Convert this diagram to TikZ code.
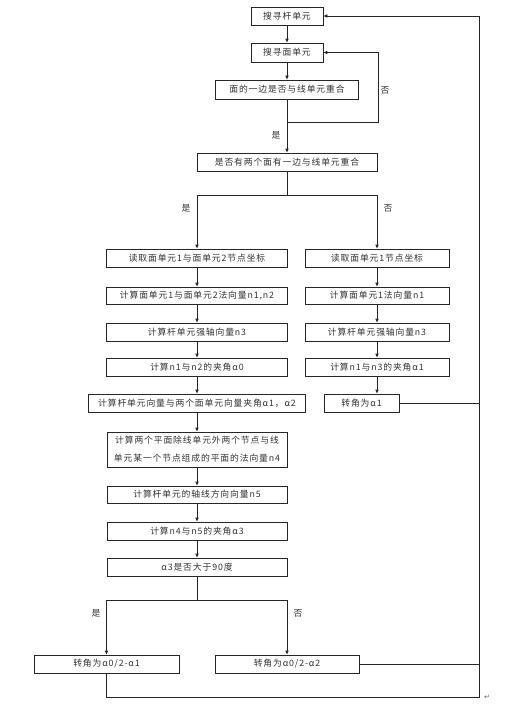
\documentclass[tikz,border=0pt]{standalone}
\usepackage{fontspec}
\newfontfamily\cjk[LetterSpace=10]{Noto Sans CJK SC}
\newfontfamily\symfont{DejaVu Sans}
\usetikzlibrary{arrows.meta}
\tikzset{
  box/.style={draw=black!85, line width=0.6pt, minimum height=18pt, inner sep=0pt,
    text=black!80, font=\cjk\fontsize{8.8}{18}\selectfont},
  conn/.style={draw=black!85, line width=0.6pt},
  arr/.style={conn, -{Latex[length=4pt,width=3.5pt]}},
  lbl/.style={text=black!80, font=\cjk\fontsize{8.8}{10}\selectfont, inner sep=0pt}
}
\begin{document}
\begin{tikzpicture}[x=1pt,y=-1pt]
\fill[white] (0,0) rectangle (531,707);
\useasboundingbox (0,0) rectangle (531,707);
% main column
\node[box, minimum width=72pt] (b1) at (287,16) {搜寻杆单元};
\node[box, minimum width=72pt, minimum height=19pt] (b2) at (287,52.5) {搜寻面单元};
\node[box, minimum width=143pt, minimum height=19pt] (b3) at (287,89.5) {面的一边是否与线单元重合};
\node[box, minimum width=180pt] (b4) at (287,162) {是否有两个面有一边与线单元重合};
% left column
\node[box, minimum width=181pt] (L1) at (197,258) {读取面单元1与面单元2节点坐标};
\node[box, minimum width=181pt, minimum height=17pt] (L2) at (197,295.5) {计算面单元1与面单元2法向量n1,n2};
\node[box, minimum width=181pt] (L3) at (197,332) {计算杆单元强轴向量n3};
\node[box, minimum width=181pt] (L4) at (197,367) {计算n1与n2的夹角α0};
\node[box, minimum width=217pt] (L5) at (197,403) {计算杆单元向量与两个面单元向量夹角α1，α2};
\node[box, minimum width=180pt, minimum height=35pt, align=center] (L6) at (197,449.5) {计算两个平面除线单元外两个节点与线\\单元某一个节点组成的平面的法向量n4};
\node[box, minimum width=180pt, minimum height=17pt] (L7) at (197,494.5) {计算杆单元的轴线方向向量n5};
\node[box, minimum width=180pt] (L8) at (197,531) {计算n4与n5的夹角α3};
\node[box, minimum width=180pt] (L9) at (197,567) {α3是否大于90度};
% right column
\node[box, minimum width=144pt] (R1) at (377,258) {读取面单元1节点坐标};
\node[box, minimum width=144pt, minimum height=17pt] (R2) at (377,295.5) {计算面单元1法向量n1};
\node[box, minimum width=144pt] (R3) at (377,332) {计算杆单元强轴向量n3};
\node[box, minimum width=144pt] (R4) at (377,367) {计算n1与n3的夹角α1};
\node[box, minimum width=75pt] (R5) at (361.5,403) {转角为α1};
% bottom
\node[box, minimum width=145pt] (B1) at (106.5,664) {转角为α0/2-α1};
\node[box, minimum width=144pt] (B2) at (287,664) {转角为α0/2-α2};
% junction coordinates
\coordinate (j1) at (287,122);
\coordinate (n1) at (378,122);
\coordinate (s1) at (287,195);
\coordinate (s2) at (197,600);
\coordinate (c1) at (479,697);
% connectors
\draw[arr] (b1) -- (b2);
\draw[arr] (b2) -- (b3);
\draw[conn] (b3.south) -- (j1);
\draw[arr] (j1) -- (b4.north);
\draw[arr] (j1) -- (n1) |- (b2.east);
\draw[conn] (b4.south) -- (s1);
\draw[arr] (s1) -| (L1.north);
\draw[arr] (s1) -| (R1.north);
\draw[arr] (L1) -- (L2);
\draw[arr] (L2) -- (L3);
\draw[arr] (L3) -- (L4);
\draw[arr] (L4) -- (L5);
\draw[arr] (L5) -- (L6);
\draw[arr] (L6) -- (L7);
\draw[arr] (L7) -- (L8);
\draw[arr] (L8) -- (L9);
\draw[arr] (R1) -- (R2);
\draw[arr] (R2) -- (R3);
\draw[arr] (R3) -- (R4);
\draw[arr] (R4.south) -- (R4.south |- R5.north);
\draw[conn] (L9.south) -- (s2);
\draw[arr] (s2) -| (B1.north);
\draw[arr] (s2) -| (B2.north);
\draw[conn] (R5.east) -- (R5.east -| c1);
\draw[conn] (B2.east) -- (B2.east -| c1);
\draw[arr] (B1.south) |- (c1) |- (b1.east);
% labels
\node[lbl] (y1) at (276,135) {是};
\node[lbl] (n1l) at (385,90) {否};
\node[lbl] (y2) at (186,208) {是};
\node[lbl] (n2l) at (388,208) {否};
\node[lbl] (y3) at (96,613) {是};
\node[lbl] (n3l) at (298,613) {否};
\node[text=black!60, inner sep=0pt, font=\symfont\fontsize{7}{8}\selectfont] (pm) at (487,697) {↵};
\end{tikzpicture}
\end{document}
